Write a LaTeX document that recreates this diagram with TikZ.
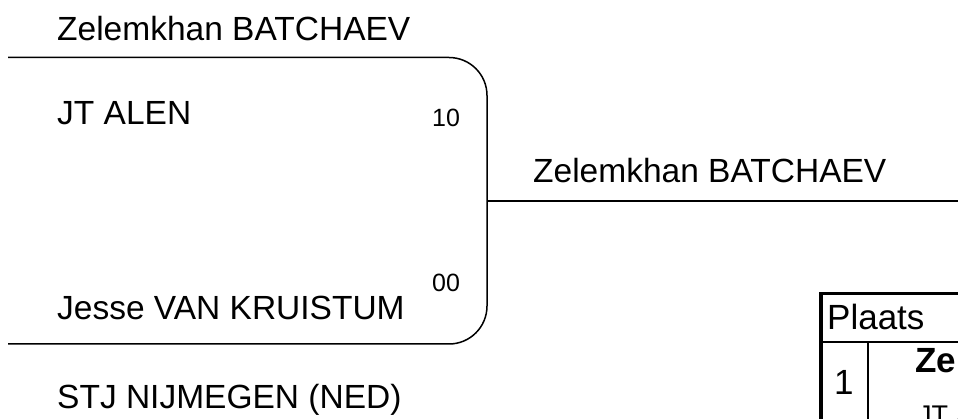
\documentclass[tikz,border=0pt]{standalone}
\usepackage{fontspec}
\setmainfont{Liberation Sans}
\begin{document}
\begin{tikzpicture}[x=1pt,y=-1pt,
  namelbl/.style={anchor=base west,inner sep=0pt,font=\fontsize{33.5}{36}\selectfont},
  scorelbl/.style={anchor=base west,inner sep=0pt,font=\fontsize{25}{28}\selectfont},
  tbllbl/.style={anchor=base west,inner sep=0pt,font=\fontsize{35}{38}\selectfont},
  bracket/.style={line width=1.5pt,rounded corners=38pt},
  thinline/.style={line width=1.5pt},
  thickline/.style={line width=3.5pt}]
\useasboundingbox (0,0) rectangle (958,419);
\clip (0,0) rectangle (958,419);
% texts
\node[namelbl] (n1) at (57,41) {Zelemkhan BATCHAEV};
\node[namelbl] (c1) at (57,125) {JT ALEN};
\node[scorelbl] (s1) at (432,127) {10};
\node[scorelbl] (s2) at (432,292) {00};
\node[namelbl] (n2) at (57,320) {Jesse VAN KRUISTUM};
\node[namelbl] (c2) at (57,408) {STJ NIJMEGEN (NED)};
\node[namelbl] (w) at (533,183) {Zelemkhan BATCHAEV};
% bracket
\coordinate (t0) at (8,57.5);
\coordinate (tc) at (487,57.5);
\coordinate (bc) at (487,344);
\coordinate (b0) at (8,344);
\coordinate (m) at (487,201);
\coordinate (mr) at (962,201);
\draw[bracket] (t0) -- (tc) -- (bc) -- (b0);
\draw[thinline] (m) -- (mr);
% table
\coordinate (tl) at (821,293.5);
\coordinate (tr) at (965,293.5);
\coordinate (bl) at (821,425);
\coordinate (hl) at (821,342);
\coordinate (hr) at (965,342);
\coordinate (vt) at (868,342);
\coordinate (vb) at (868,425);
\draw[thickline] (bl) -- (tl) -- (tr);
\draw[thinline] (hl) -- (hr);
\draw[thinline] (vt) -- (vb);
\node[tbllbl] (pl) at (827,330) {Plaats};
\node[tbllbl] (r1) at (834,394) {1};
\node[anchor=base west,inner sep=0pt,font=\fontsize{35}{38}\selectfont\bfseries] (tw) at (915,373) {Zelemkhan BATCHAEV};
\node[anchor=base west,inner sep=0pt,font=\fontsize{27}{30}\selectfont] (tc1) at (918,424) {JT ALEN};
\end{tikzpicture}
\end{document}
